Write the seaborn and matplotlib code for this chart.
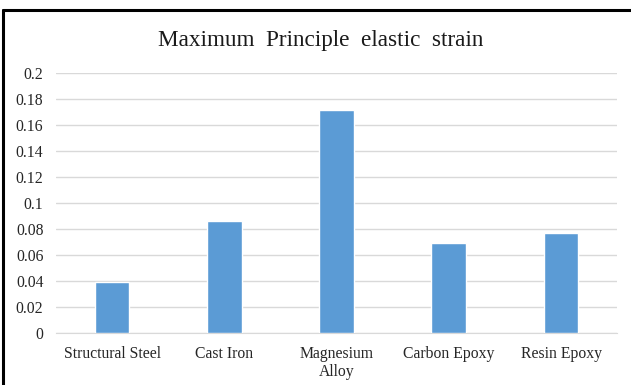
import pandas as pd
import seaborn as sns
import matplotlib.pyplot as plt
from matplotlib.lines import Line2D

materials = ["Structural Steel", "Cast Iron", "Magnesium\nAlloy", "Carbon Epoxy", "Resin Epoxy"]
strain = [0.0395, 0.0867, 0.1717, 0.0697, 0.0775]
yticks = [0, 0.02, 0.04, 0.06, 0.08, 0.1, 0.12, 0.14, 0.16, 0.18, 0.2]
ytick_labels = ["0", "0.02", "0.04", "0.06", "0.08", "0.1", "0.12", "0.14", "0.16", "0.18", "0.2"]

df = pd.DataFrame({"material": materials, "strain": strain})

sns.set_style("white")
plt.rcParams['font.family'] = ['Liberation Serif', 'DejaVu Serif']

fig = plt.figure(figsize=(6.31, 3.85), dpi=100)
ax = fig.add_axes([0.0887, 0.1343, 0.8893, 0.6753])

sns.barplot(data=df, x="material", y="strain", color="#5B9BD5", width=0.31,
            saturation=1, ax=ax, zorder=3)

ax.set_ylim(0, 0.2)
ax.set_xlim(-0.5, 4.5)
ax.set_yticks(yticks)
ax.set_yticklabels(ytick_labels)
ax.grid(axis="y", color="#D9D9D9", linewidth=1, zorder=0)
ax.set_axisbelow(True)
ax.tick_params(axis="both", length=0, labelsize=11.3, colors="#262626")
ax.tick_params(axis="y", pad=9)
ax.tick_params(axis="x", pad=9)
for lab in ax.get_xticklabels():
    lab.set_linespacing(1.15)
ax.set_xlabel("")
ax.set_ylabel("")
for s in ["top", "right", "left"]:
    ax.spines[s].set_visible(False)
ax.spines["bottom"].set_color("#D9D9D9")

fig.text(0.508, 0.895, "Maximum  Principle  elastic  strain", ha="center", va="center",
         fontsize=16.7, color="#1a1a1a")

# frame lines at the top and left edge of the picture
fig.add_artist(Line2D([0.0048, 1.0], [0.974, 0.974], color="black", linewidth=2.2,
                      transform=fig.transFigure))
fig.add_artist(Line2D([0.0048, 0.0048], [0.0, 0.974], color="black", linewidth=2.2,
                      transform=fig.transFigure))

plt.savefig("out.png", dpi=100)
